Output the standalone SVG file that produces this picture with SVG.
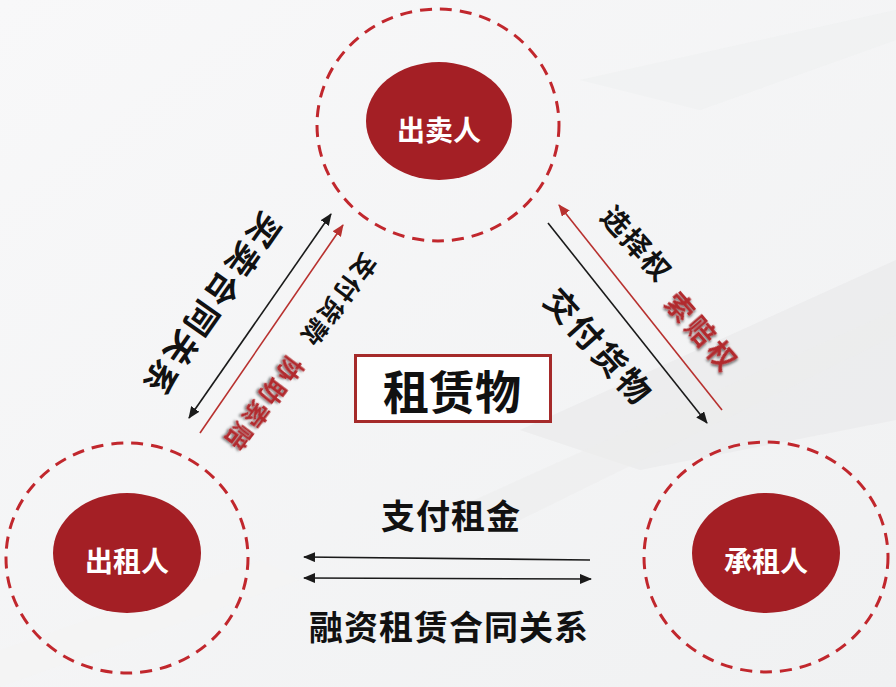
<svg xmlns="http://www.w3.org/2000/svg" width="896" height="687" viewBox="0 0 896 687">
<defs>
<linearGradient id="bg" x1="0" y1="0" x2="1" y2="1">
<stop offset="0" stop-color="#f8f8f9"/>
<stop offset="1" stop-color="#f0f1f2"/>
</linearGradient>
<marker id="ak" viewBox="0 0 12 10" refX="11" refY="5" markerWidth="12" markerHeight="10" markerUnits="userSpaceOnUse" orient="auto-start-reverse">
<path d="M0,0 L12,5 L0,10 Z" fill="#1a1a1a"/>
</marker>
<marker id="ar" viewBox="0 0 12 10" refX="11" refY="5" markerWidth="12" markerHeight="10" markerUnits="userSpaceOnUse" orient="auto-start-reverse">
<path d="M0,0 L12,5 L0,10 Z" fill="#b8312f"/>
</marker>
<filter id="sh" x="-20%" y="-20%" width="140%" height="140%">
<feDropShadow dx="1.5" dy="1.5" stdDeviation="1.2" flood-color="#000" flood-opacity="0.55"/>
</filter>
</defs>
<style>
.ring{fill:none;stroke:#c1272d;stroke-width:3;stroke-dasharray:12 8}
.core{fill:#a41f25}
.wt{font-family:"Noto Sans CJK SC","Noto Sans",sans-serif;font-weight:bold;fill:#fff;font-size:28px;text-anchor:middle;dominant-baseline:central}
.bt{font-family:"Noto Sans CJK SC","Noto Sans",sans-serif;font-weight:bold;fill:#111;text-anchor:middle;dominant-baseline:central}
.rt{font-family:"Noto Sans CJK SC","Noto Sans",sans-serif;font-weight:bold;fill:#b22a2e;text-anchor:middle;dominant-baseline:central}
.lk{fill:none;stroke:#1a1a1a;stroke-width:1.6}
.lr{fill:none;stroke:#b8312f;stroke-width:1.6}
</style>
<rect width="896" height="687" fill="url(#bg)"/>
<g id="background">
<polygon points="520,430 896,260 896,420 640,470" fill="#e9eaeb" opacity="0.7"/>
<polygon points="430,520 896,310 896,335 520,520" fill="#ececed" opacity="0.6"/>
<polygon points="580,80 896,10 896,40 700,110" fill="#eeeff0" opacity="0.5"/>
<polygon points="0,650 260,560 300,580 0,687" fill="#f3f3f4" opacity="0.7"/>
</g>
<g id="node-seller">
<ellipse class="ring" cx="438" cy="125" rx="121" ry="116"/>
<ellipse class="core" cx="439" cy="121" rx="73" ry="59"/>
<text class="wt" x="439" y="129">出卖人</text>
</g>
<g id="node-lessor">
<ellipse class="ring" cx="127" cy="558" rx="121" ry="115"/>
<ellipse class="core" cx="127" cy="553" rx="74" ry="60"/>
<text class="wt" x="127" y="560">出租人</text>
</g>
<g id="node-lessee">
<ellipse class="ring" cx="766" cy="557" rx="122" ry="115"/>
<ellipse class="core" cx="766" cy="553" rx="74" ry="60"/>
<text class="wt" x="766" y="560">承租人</text>
</g>
<g id="node-asset">
<rect x="355.5" y="355.5" width="195" height="66" fill="#fff" stroke="#a52a2a" stroke-width="3"/>
<text class="bt" x="452" y="389" font-size="46">租赁物</text>
</g>
<g id="connectors">
<line class="lk" x1="189" y1="418" x2="331" y2="214" marker-start="url(#ak)" marker-end="url(#ak)"/>
<line class="lr" x1="200" y1="433" x2="343" y2="225" marker-end="url(#ar)"/>
<line class="lr" x1="722" y1="410" x2="559" y2="205" marker-end="url(#ar)"/>
<line class="lk" x1="548" y1="223" x2="707" y2="423" marker-end="url(#ak)"/>
<line class="lk" x1="590" y1="560" x2="304" y2="557" marker-end="url(#ak)"/>
<line class="lk" x1="304" y1="578" x2="591" y2="579" marker-start="url(#ak)" marker-end="url(#ak)"/>
</g>
<g id="labels">
<text class="bt" font-size="33" letter-spacing="3" transform="translate(213,306) rotate(125)">买卖合同关系</text>
<text class="bt" font-size="25" letter-spacing="2" transform="translate(340,301) rotate(127)">支付货款</text>
<text class="rt" font-size="25" letter-spacing="3" filter="url(#sh)" transform="translate(265,405) rotate(127)">协助索赔</text>
<text class="bt" font-size="28" letter-spacing="2" transform="translate(638,243) rotate(48)">选择权</text>
<text class="rt" font-size="28" letter-spacing="4" filter="url(#sh)" transform="translate(703,332) rotate(49)">索赔权</text>
<text class="bt" font-size="33" letter-spacing="3" transform="translate(600,346) rotate(48)">交付货物</text>
<text class="bt" font-size="34" letter-spacing="1" x="451" y="514">支付租金</text>
<text class="bt" font-size="34" letter-spacing="1" x="449" y="625">融资租赁合同关系</text>
</g>
</svg>
